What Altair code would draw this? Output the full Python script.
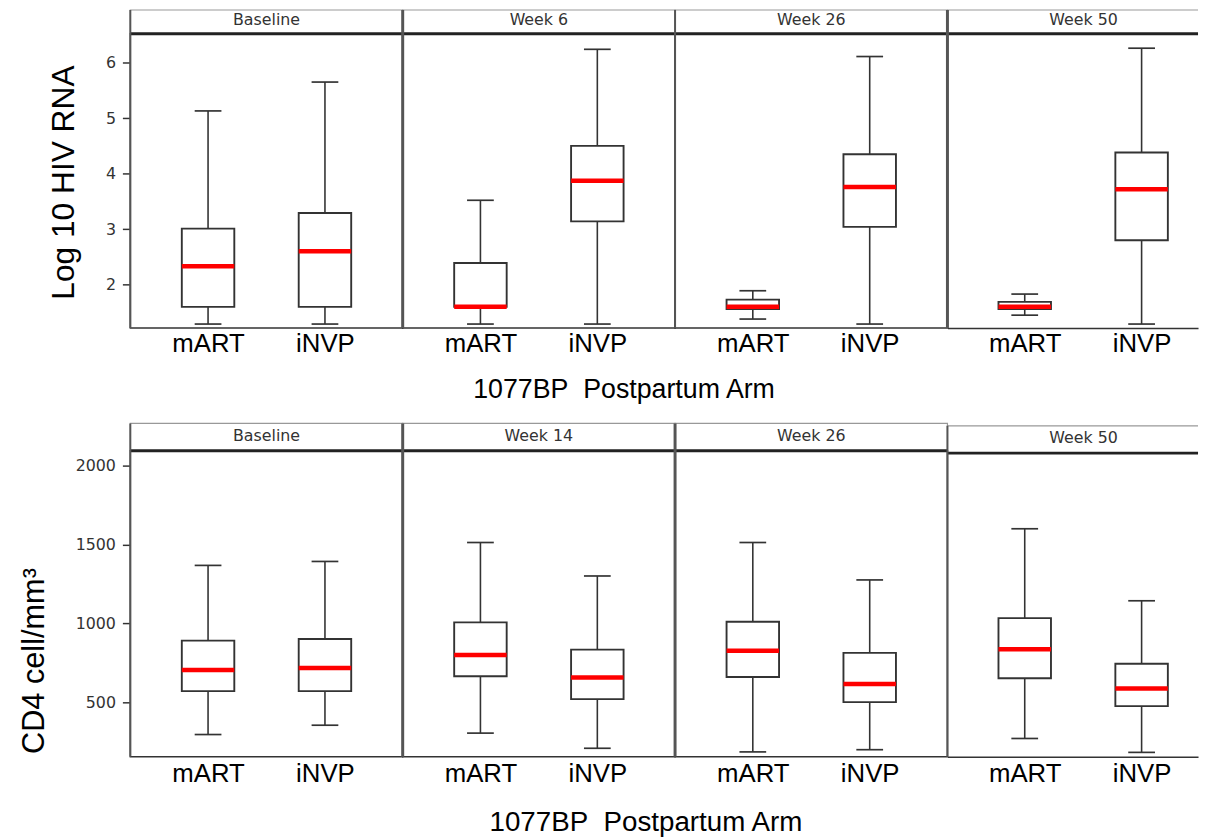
import altair as alt
import pandas as pd

arms = ["mART", "iNVP"]

# Log10 HIV RNA (top row)
rna_weeks = ["Baseline", "Week 6", "Week 26", "Week 50"]
rna_mart_low = [1.29, 1.29, 1.38, 1.45]
rna_mart_q1 = [1.60, 1.60, 1.56, 1.56]
rna_mart_med = [2.33, 1.60, 1.60, 1.60]
rna_mart_q3 = [3.01, 2.39, 1.73, 1.69]
rna_mart_high = [5.13, 3.52, 1.89, 1.83]
rna_invp_low = [1.29, 1.29, 1.29, 1.29]
rna_invp_q1 = [1.60, 3.14, 3.04, 2.80]
rna_invp_med = [2.60, 3.87, 3.76, 3.72]
rna_invp_q3 = [3.29, 4.50, 4.35, 4.38]
rna_invp_high = [5.65, 6.24, 6.11, 6.26]
rna_ticks = [2, 3, 4, 5, 6]

# CD4 cell/mm3 (bottom row)
cd4_weeks = ["Baseline", "Week 14", "Week 26", "Week 50"]
cd4_mart_low = [297, 306, 187, 272]
cd4_mart_q1 = [572, 666, 661, 653]
cd4_mart_med = [705, 800, 827, 837]
cd4_mart_q3 = [892, 1007, 1011, 1034]
cd4_mart_high = [1368, 1513, 1513, 1600]
cd4_invp_low = [356, 210, 201, 184]
cd4_invp_q1 = [572, 521, 502, 477]
cd4_invp_med = [718, 658, 617, 588]
cd4_invp_q3 = [902, 835, 814, 745]
cd4_invp_high = [1393, 1301, 1276, 1144]
cd4_ticks = [500, 1000, 1500, 2000]

LINE = "#333333"
SEP = "#555555"
XTITLE = "1077BP\u00a0\u00a0Postpartum Arm"


def build_df(weeks, mart, invp):
    rows = []
    for i, w in enumerate(weeks):
        for arm, s in (("mART", mart), ("iNVP", invp)):
            rows.append(dict(week=w, arm=arm, low=s[0][i], q1=s[1][i],
                             med=s[2][i], q3=s[3][i], high=s[4][i]))
    return pd.DataFrame(rows)


rna_df = build_df(rna_weeks,
                  [rna_mart_low, rna_mart_q1, rna_mart_med, rna_mart_q3, rna_mart_high],
                  [rna_invp_low, rna_invp_q1, rna_invp_med, rna_invp_q3, rna_invp_high])
cd4_df = build_df(cd4_weeks,
                  [cd4_mart_low, cd4_mart_q1, cd4_mart_med, cd4_mart_q3, cd4_mart_high],
                  [cd4_invp_low, cd4_invp_q1, cd4_invp_med, cd4_invp_q3, cd4_invp_high])

top = dict(domain=[1.22, 6.52], ticks=rna_ticks, plot_h=297, head_h=24, label_pad=23.5,
           ytitle="Log 10 HIV RNA", ytitle_size=32, ytitle_x=-57, ytitle_y=31.5,
           xtitle=XTITLE, xtitle_size=27, xtitle_x=223, xtitle_y=70.5,
           seps=[2, 3, 2, 3], hoff=[0, 0, 0, 0])
bot = dict(domain=[156, 2094], ticks=cd4_ticks, plot_h=309, head_h=27.6, label_pad=25,
           ytitle="CD4 cell/mm\u00b3", ytitle_size=31, ytitle_x=-87.5, ytitle_y=118,
           xtitle=XTITLE, xtitle_size=28, xtitle_x=245, xtitle_y=74.4,
           seps=[2, 3, 3, 2], hoff=[0, 0, 0, 2.4])


def panel(df, week, idx, r):
    last = idx == 3
    W = 253 if last else 275
    d = df[df["week"] == week]
    xkw = dict(labelFont="Liberation Sans", labelFontSize=26, labelColor="black", labelAngle=0,
               ticks=False, tickSize=0, labelPadding=r["label_pad"], labelBaseline="alphabetic",
               domain=last, domainColor=LINE, domainWidth=1.5, grid=False)
    if idx == 1:
        xkw.update(title=r["xtitle"], titleFont="Liberation Sans", titleFontSize=r["xtitle_size"],
                   titleFontWeight="normal", titleColor="black", titleX=r["xtitle_x"],
                   titleY=r["xtitle_y"], titleAlign="center", titleBaseline="alphabetic")
    else:
        xkw.update(title=None)
    x = alt.X("arm:N", sort=arms,
              scale=alt.Scale(type="point", padding=0.572 if last else 0.665,
                              align=0.578 if last else 0.5),
              axis=alt.Axis(**xkw))
    yscale = alt.Scale(domain=r["domain"], nice=False, zero=False)
    if idx == 0:
        yaxis = alt.Axis(values=r["ticks"], format="d", title=r["ytitle"], domain=False,
                         grid=False, ticks=True, tickSize=8, tickWidth=1.5, tickColor=LINE,
                         labelPadding=7, labelFont="DejaVu Sans", labelFontSize=16,
                         labelColor="#333", titleFont="Liberation Sans",
                         titleFontSize=r["ytitle_size"], titleFontWeight="normal",
                         titleColor="black", titleAngle=270, titleX=r["ytitle_x"],
                         titleY=r["ytitle_y"], titleAlign="right", titleBaseline="alphabetic")
    else:
        yaxis = None

    base = alt.Chart(d).encode(x=x)
    whisk = base.mark_rule(color=LINE, strokeWidth=1.6, opacity=1).encode(
        y=alt.Y("low:Q", scale=yscale, axis=yaxis), y2="high:Q")
    box = base.mark_bar(size=53, fill="white", stroke=LINE, strokeWidth=1.9, opacity=1).encode(
        y=alt.Y("q1:Q", scale=yscale, axis=yaxis), y2="q3:Q")
    cap_lo = base.mark_tick(size=27, thickness=1.7, color=LINE, opacity=1).encode(
        y=alt.Y("low:Q", scale=yscale, axis=yaxis))
    cap_hi = base.mark_tick(size=27, thickness=1.7, color=LINE, opacity=1).encode(
        y=alt.Y("high:Q", scale=yscale, axis=yaxis))
    med = base.mark_tick(size=53, thickness=4.5, color="#ff0000", opacity=1).encode(
        y=alt.Y("med:Q", scale=yscale, axis=yaxis))

    H = r["head_h"]
    off = r["hoff"][idx]
    hd = alt.Chart(pd.DataFrame({"label": [week]}))
    layers = [whisk, box, cap_lo, cap_hi, med]
    if last:
        layers.append(hd.mark_rule(color="#999", strokeWidth=1.2).encode(
            x=alt.value(0), x2=alt.value(W), y=alt.value(-H + off)))
    else:
        layers.append(hd.mark_rect(fill="white", stroke="#999", strokeWidth=1.2).encode(
            x=alt.value(0), x2=alt.value(W), y=alt.value(-H + off), y2=alt.value(off)))
    layers.append(hd.mark_text(font="DejaVu Sans", fontSize=16, color="#333",
                               baseline="middle", align="center").encode(
        text="label:N", x=alt.value(137.5), y=alt.value(-H / 2 - 1.5 + off)))
    layers.append(hd.mark_rule(color="#222", strokeWidth=3).encode(
        x=alt.value(0), x2=alt.value(W), y=alt.value(off)))
    # panel separator / left border, running through the header
    layers.append(hd.mark_rule(color=SEP, strokeWidth=r["seps"][idx]).encode(
        x=alt.value(0), y=alt.value(-H + off), y2=alt.value(r["plot_h"])))
    return alt.layer(*layers).properties(
        width=W, height=r["plot_h"],
        view=alt.ViewBackground(stroke="transparent" if last else LINE, strokeWidth=1.5))


panels = [panel(rna_df, w, i, top) for i, w in enumerate(rna_weeks)] + \
         [panel(cd4_df, w, i, bot) for i, w in enumerate(cd4_weeks)]

chart = alt.concat(*panels, columns=4, spacing={"row": 124, "column": 0},
                   bounds="flush").properties(
    padding={"left": 9.5, "top": -5, "right": 0, "bottom": 0},
    autosize=alt.AutoSizeParams(type="pad"),
)

chart.save("out.html", embed_options={"renderer": "svg", "actions": False})
